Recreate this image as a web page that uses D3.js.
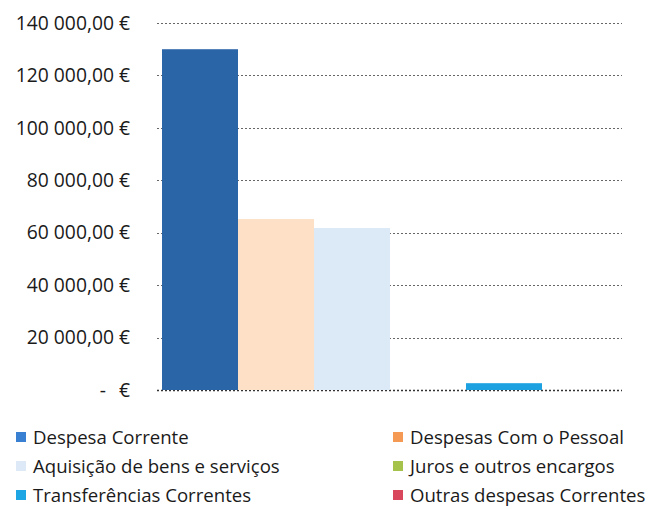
<html>
<head>
<script src="https://d3js.org/d3.v7.min.js"></script>
<style>
body { margin: 0; background: #fff; font-family: 'Open Sans', sans-serif; }
</style>
</head>
<body>
<svg width="657" height="509"></svg>
<script>
// categories and their values (euros)
var categories = ["Despesa Corrente", "Despesas Com o Pessoal", "Aquisição de bens e serviços",
                  "Juros e outros encargos", "Transferências Correntes", "Outras despesas Correntes"];
var values = [130000, 65200, 61800, 0, 2600, 0];
var yTicks = [0, 20000, 40000, 60000, 80000, 100000, 120000, 140000];

// fill for the bars, and the (more saturated) legend squares
var barColors = ["#2a65a8", "#fde0c6", "#dce9f6", "#a9c94e", "#1ea1e0", "#d64a5e"];
var keyColors = ["#3a80d2", "#f59a55", "#dde9f6", "#a5c34a", "#1ea5e3", "#d8475c"];

var svg = d3.select("svg");

var x = d3.scaleBand().domain(categories).range([162, 618]).padding(0);
var y = d3.scaleLinear().domain([0, 140000]).range([390, 23]);

// euro format like "120 000,00 €", zero shown as "-   €"
var fmt = d3.formatLocale({ decimal: ",", thousands: "\u00a0", grouping: [3], currency: ["", " €"] }).format(",.2f");
function label(d) { return d === 0 ? "-" : fmt(d) + " €"; }

// dotted gridlines
svg.append("g").selectAll("line")
  .data(yTicks)
  .join("line")
  .attr("x1", 157).attr("x2", 622)
  .attr("y1", function (d) { return Math.round(y(d)) + 0.5; })
  .attr("y2", function (d) { return Math.round(y(d)) + 0.5; })
  .style("stroke", function (d) { return d === 0 ? "#333" : "#666"; })
  .style("stroke-width", function (d) { return d === 0 ? 1.5 : 1; })
  .style("stroke-dasharray", "2,2");

// y labels
var yl = svg.append("g");
yl.selectAll("text")
  .data(yTicks)
  .join("text")
  .attr("x", function (d) { return d === 0 ? 106 : 130; })
  .attr("y", function (d) { return y(d); })
  .attr("dy", "0.35em")
  .attr("text-anchor", "end")
  .style("font-size", "19.3px")
  .style("fill", "#1a1a1a")
  .text(label);
yl.append("text")
  .attr("x", 130).attr("y", y(0)).attr("dy", "0.35em")
  .attr("text-anchor", "end")
  .style("font-size", "19.3px").style("fill", "#1a1a1a")
  .text("€");

// bars
svg.append("g").selectAll("rect")
  .data(values)
  .join("rect")
  .attr("x", function (d, i) { return x(categories[i]); })
  .attr("width", x.bandwidth())
  .attr("y", function (d) { return y(d); })
  .attr("height", function (d) { return y(0) - y(d); })
  .style("fill", function (d, i) { return barColors[i]; });

// legend, two columns
var legend = svg.append("g").selectAll("g")
  .data(categories)
  .join("g")
  .attr("transform", function (d, i) {
    return "translate(" + (i % 2 === 0 ? 16 : 393) + "," + (437 + Math.floor(i / 2) * 29) + ")";
  });
legend.append("rect")
  .attr("x", 0).attr("y", -5).attr("width", 10).attr("height", 10)
  .style("fill", function (d, i) { return keyColors[i]; });
legend.append("text")
  .attr("x", 17).attr("dy", "0.35em")
  .style("font-size", "18.6px")
  .style("fill", "#1a1a1a")
  .text(function (d) { return d; });
</script>
</body>
</html>
